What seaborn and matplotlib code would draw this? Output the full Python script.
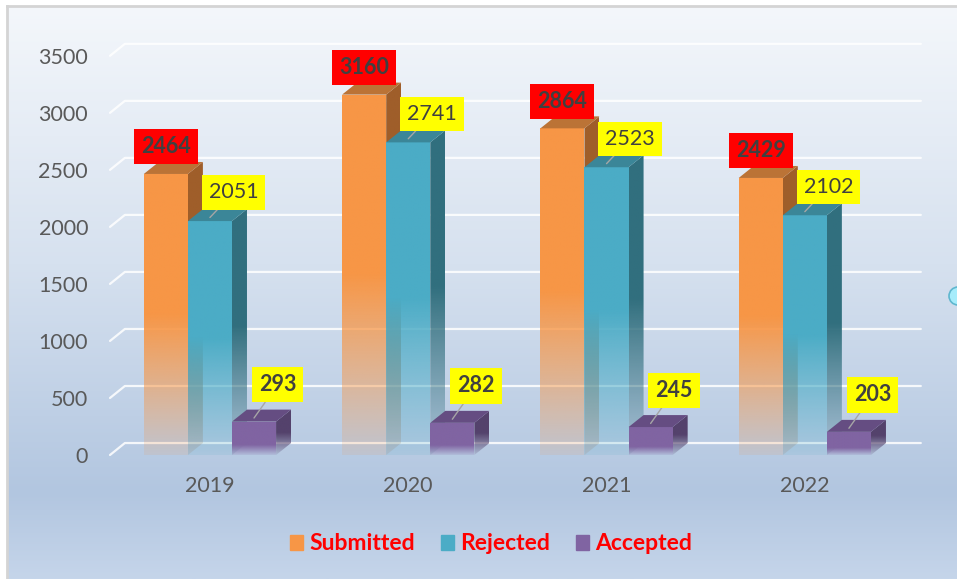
import numpy as np
import pandas as pd
import matplotlib
matplotlib.use('Agg')
import matplotlib.pyplot as plt
import seaborn as sns
from matplotlib.patches import Polygon, Patch, Ellipse
from matplotlib.colors import to_rgb

# values
years = ['2019', '2020', '2021', '2022']
series = ['Submitted', 'Rejected', 'Accepted']
submitted = [2464, 3160, 2864, 2429]
rejected = [2051, 2741, 2523, 2102]
accepted = [293, 282, 245, 203]

df = pd.DataFrame({'year': years * 3,
                   'status': np.repeat(series, len(years)),
                   'count': submitted + rejected + accepted})

front = ['#f79646', '#4bacc6', '#8064a2']
side = ['#9f5e2a', '#316f7e', '#54426c']
top = ['#bb7336', '#3b8698', '#654d82']
fade = [0.5, 0.5, 0.3]

sns.set_theme(style='white')
plt.rcParams['font.family'] = ['Lato', 'DejaVu Sans']

W, H = 957, 579
fig = plt.figure(figsize=(W / 100, H / 100), dpi=100)
fig.patch.set_facecolor('white')

# chart area background gradient
bg = fig.add_axes([7 / W, 0, 950 / W, 573 / H], zorder=-10)
stops = np.array([0.0, 0.45, 0.85, 1.0])
cols = np.array([to_rgb(c) for c in ['#f4f7fb', '#d6e1ef', '#b2c6e0', '#c5d5ea']])
t = np.linspace(0, 1, 300)
img = np.stack([np.interp(t, stops, cols[:, k]) for k in range(3)], axis=-1)[:, None, :]
bg.imshow(img, aspect='auto', extent=(0, 1, 0, 1), origin='upper')
bg.set_xticks([])
bg.set_yticks([])
for s in ['right', 'bottom']:
    bg.spines[s].set_visible(False)
for s in ['top', 'left']:
    bg.spines[s].set_color('#d4d4d4')
    bg.spines[s].set_linewidth(2)

ax = fig.add_axes([110 / W, (H - 455) / H, 815 / W, 422 / H])
ax.patch.set_alpha(0)
sns.barplot(data=df, x='year', y='count', hue='status', palette=front,
            width=0.667, linewidth=0, saturation=1, errorbar=None,
            legend=False, ax=ax)

XL, XR = -0.504, 3.606
DX, DY = 0.0756, 105

# back wall gridlines with the slanted floor stub
for v in range(0, 3501, 500):
    ax.plot([XL, -0.429, 3.585], [v, v + DY, v + DY], color='white',
            lw=1.6, alpha=0.85, zorder=1, clip_on=False)


def shade(verts, color, ylo, yhi, ftop, z):
    poly = Polygon(verts, closed=True, facecolor='none', edgecolor='none')
    ax.add_patch(poly)
    n = 256
    ys = np.linspace(yhi, ylo, n)
    a = 0.12 + 0.88 * np.clip((ys - ylo) / max(ftop - ylo, 1), 0, 1)
    im_arr = np.zeros((n, 1, 4))
    im_arr[..., :3] = to_rgb(color)
    im_arr[..., 3] = a[:, None]
    xs = [p[0] for p in verts]
    im = ax.imshow(im_arr, extent=(min(xs), max(xs), ylo, yhi), aspect='auto',
                   origin='upper', zorder=z, interpolation='bilinear')
    im.set_clip_path(poly)


for i, cont in enumerate(ax.containers):
    for bar in cont:
        x, w, h = bar.get_x(), bar.get_width(), bar.get_height()
        bar.set_visible(False)
        z = 3 + i * 3
        ft = fade[i] * h
        shade([(x + w, 0), (x + w, h), (x + w + DX, h + DY), (x + w + DX, DY)],
              side[i], 0, h + DY, ft + DY, z)
        shade([(x, 0), (x, h), (x + w, h), (x + w, 0)], front[i], 0, h, ft, z + 1)
        ax.add_patch(Polygon([(x, h), (x + w, h), (x + w + DX, h + DY), (x + DX, h + DY)],
                             closed=True, facecolor=top[i], edgecolor='none', zorder=z + 2))

        cx = x + w / 2
        if i == 0:
            ax.annotate(f'{int(h)}', xy=(cx, h), xytext=(0, 19.5), textcoords='offset points',
                        ha='center', va='center', fontsize=15.5, fontweight='bold', color='#404040',
                        bbox=dict(boxstyle='square,pad=0.33', fc='#ff0000', ec='none'), zorder=20)
        else:
            off = (17, 18) if i == 1 else (17, 24)
            ax.annotate(f'{int(h)}', xy=(cx, h + DY * 0.3), xytext=off, textcoords='offset points',
                        ha='center', va='center', fontsize=15.5,
                        fontweight='normal' if i == 1 else 'bold', color='#404040',
                        bbox=dict(boxstyle='square,pad=0.33', fc='#ffff00', ec='none'),
                        arrowprops=dict(arrowstyle='-', color='#a6a6a6', lw=1, shrinkA=0, shrinkB=0),
                        zorder=20)

ax.set_xlim(XL, XR)
ax.set_ylim(0, 3700)
ax.set_yticks(range(0, 3501, 500))
ax.set_xlabel('')
ax.set_ylabel('')
ax.tick_params(axis='y', length=0, pad=15.8, labelsize=15.5, labelcolor='#595959')
ax.tick_params(axis='x', length=0, pad=15, labelsize=15.5, labelcolor='#595959')
for s in ax.spines.values():
    s.set_visible(False)

handles = [Patch(color=c) for c in front]
leg = fig.legend(handles=handles, labels=series, loc='center',
                 bbox_to_anchor=(491 / W, 1 - 544 / H), ncol=3, frameon=False,
                 prop=dict(weight='bold', size=16.5), handlelength=0.58, handleheight=0.58,
                 columnspacing=1.15, handletextpad=0.25)
for t in leg.get_texts():
    t.set_color('#ff0000')

# selection handle peeking in at the right edge
fig.patches.append(Ellipse((958 / W, 1 - 296 / H), 18 / W, 18 / H, transform=fig.transFigure,
                           facecolor='#a6ecfb', edgecolor='#5fb7cf', lw=1.2))

fig.savefig('out.png', dpi=100)
